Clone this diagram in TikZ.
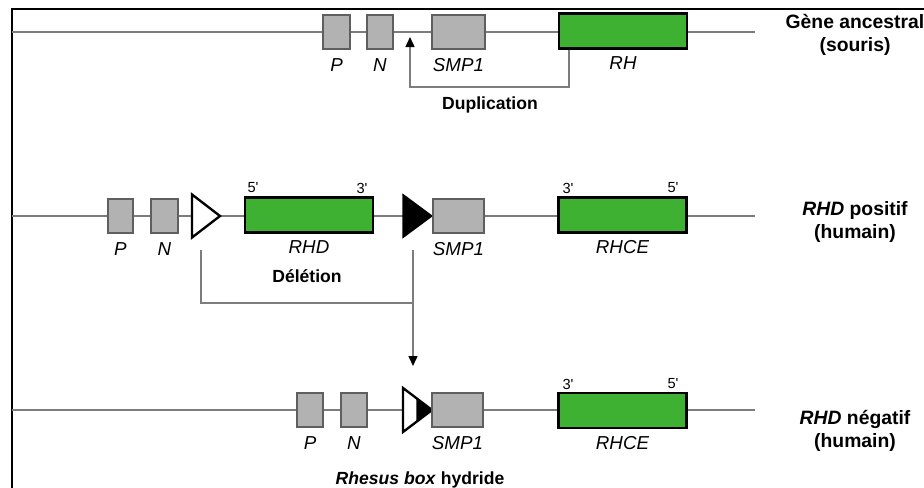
\documentclass[tikz,border=0pt]{standalone}
\usepackage{fontspec}
\setmainfont{Liberation Sans}
\usetikzlibrary{positioning,arrows.meta}

\definecolor{lineGrey}{RGB}{125,125,125}
\definecolor{edgeGrey}{RGB}{95,95,95}
\definecolor{geneGrey}{RGB}{178,178,178}
\definecolor{rhGreen}{RGB}{62,176,50}

\begin{document}
\begin{tikzpicture}[x=0.3mm,y=-0.3mm,
    chrom/.style={draw=lineGrey,line width=1.5pt},
    grey gene/.style={draw=edgeGrey,fill=geneGrey,line width=1.6pt,inner sep=0pt,minimum height=10.2mm},
    green gene/.style={draw=black,fill=rhGreen,line width=2pt,inner sep=0pt,minimum height=10.5mm,minimum width=38.4mm},
    open box/.style={draw=black,fill=white,line width=2pt,line join=miter},
    full box/.style={draw=black,fill=black,line width=1pt,line join=miter},
    gene name/.style={font=\fontsize{16}{19}\selectfont\itshape,inner sep=0pt},
    prime/.style={font=\fontsize{12.5}{15}\selectfont,inner sep=0pt},
    step name/.style={font=\fontsize{15}{18}\selectfont\bfseries,inner sep=0pt},
    row name/.style={font=\fontsize{16.5}{19.5}\selectfont\bfseries,align=center,inner sep=0pt},
    move/.style={draw=lineGrey,line width=1.2pt},
    tip/.style={-{Triangle[width=2.7mm,length=3mm,color=black]}},
    frame/.style={draw=black,line width=2pt}]

    \useasboundingbox (0,0) rectangle (924,488);

    % frame
    \coordinate (fb) at (12,488);
    \coordinate (fc) at (12,9);
    \coordinate (fr) at (924,9);
    \draw[frame] (fb) -- (fc) -- (fr);

    % ancestral gene (mouse)
    \coordinate (s1) at (12,32);
    \coordinate (e1) at (755,32);
    \draw[chrom] (s1) -- (e1);
    \node[grey gene,minimum width=8.1mm] (p1) at (336.5,32) {};
    \node[grey gene,minimum width=7.8mm] (n1) at (380,32) {};
    \node[grey gene,minimum width=15.9mm] (smp1) at (458.5,32) {};
    \node[green gene] (rh) at (623,31) {};
    \node[gene name,below=2.4mm of p1] {P};
    \node[gene name,below=2.4mm of n1] {N};
    \node[gene name,below=2.4mm of smp1] {SMP1};
    \node[gene name,below=2.1mm of rh] {RH};
    \node[row name] (r1) at (855,35) {Gène ancestral\\(souris)};

    \coordinate (dupturn) at (410,87);
    \coordinate (duptip) at (410,37);
    \draw[move,tip] ([xshift=3.3mm]rh.south west) |- (dupturn) -- (duptip);
    \node[step name] (dup) at (490,105) {Duplication};

    % RHD positive (human)
    \coordinate (s2) at (12,216);
    \coordinate (e2) at (755,216);
    \draw[chrom] (s2) -- (e2);
    \node[grey gene,minimum width=7.5mm] (p2) at (120.5,216) {};
    \node[grey gene,minimum width=8.1mm] (n2) at (164.5,216) {};
    \draw[open box] (192,194.5) -- (192,237.5) -- (220,216) -- cycle;
    \node[green gene] (rhd) at (309,215) {};
    \draw[full box] (403,194.5) -- (403,237.5) -- (432,216) -- cycle;
    \node[grey gene,minimum width=15.3mm] (smp2) at (458.5,216) {};
    \node[green gene] (rhce2) at (622.5,215) {};
    \node[gene name,below=2.4mm of p2] {P};
    \node[gene name,below=2.4mm of n2] {N};
    \node[gene name,below=2.1mm of rhd] {RHD};
    \node[gene name,below=2.4mm of smp2] {SMP1};
    \node[gene name,below=2.1mm of rhce2] {RHCE};
    \node[prime] at (253,188) {5\textquotesingle};
    \node[prime] at (362,188) {3\textquotesingle};
    \node[prime] at (568,188) {3\textquotesingle};
    \node[prime] at (673,188) {5\textquotesingle};
    \node[row name] (r2) at (855,222) {\textit{RHD} positif\\(humain)};

    \coordinate (delL) at (201,250);
    \coordinate (delR) at (413,250);
    \coordinate (delJoin) at (413,303);
    \coordinate (delTip) at (413,366);
    \draw[move] (delL) |- (delJoin);
    \draw[move,tip] (delR) -- (delTip);
    \node[step name] (del) at (307,276) {Délétion};

    % RHD negative (human)
    \coordinate (s3) at (12,410);
    \coordinate (e3) at (755,410);
    \draw[chrom] (s3) -- (e3);
    \node[grey gene,minimum width=7.8mm] (p3) at (310,410) {};
    \node[grey gene,minimum width=7.8mm] (n3) at (354,410) {};
    \draw[open box] (403,388) -- (403,432) -- (432,410) -- cycle;
    \draw[full box] (417,398.6) -- (417,421.4) -- (432,410) -- cycle;
    \node[grey gene,minimum width=15.3mm] (smp3) at (457.5,410) {};
    \node[green gene] (rhce3) at (622.5,410.5) {};
    \node[gene name,below=2.4mm of p3] {P};
    \node[gene name,below=2.4mm of n3] {N};
    \node[gene name,below=2.4mm of smp3] {SMP1};
    \node[gene name,below=2.1mm of rhce3] {RHCE};
    \node[prime] at (568,384) {3\textquotesingle};
    \node[prime] at (673,384) {5\textquotesingle};
    \node[row name] (r3) at (855,431) {\textit{RHD} négatif\\(humain)};
    \node[step name] (hyb) at (420,480) {\textit{Rhesus box} hydride};

\end{tikzpicture}
\end{document}
